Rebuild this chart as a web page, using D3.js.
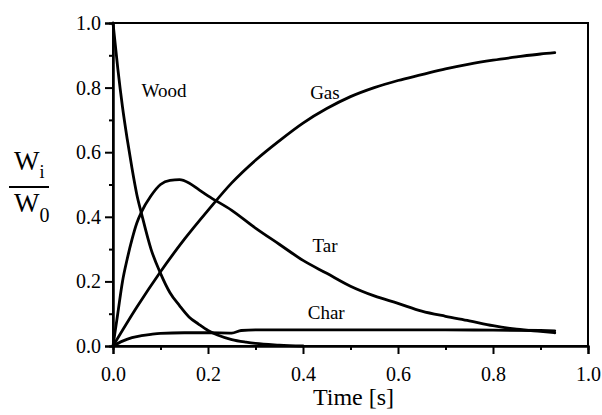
<!DOCTYPE html>
<html>
<head>
<meta charset="utf-8">
<script src="https://d3js.org/d3.v7.min.js"></script>
<style>
  body { margin: 0; background: #fff; }
  text { font-family: "Liberation Serif", "DejaVu Serif", serif; fill: #000; }
  .axis path, .axis line { stroke: #000; stroke-width: 2; }
  .curve { fill: none; stroke: #000; stroke-width: 2.8; stroke-linejoin: round; stroke-linecap: round; }
</style>
</head>
<body>
<script>
// --- data ---
const woodT = [0, 0.01, 0.02, 0.03, 0.04, 0.05, 0.06, 0.08, 0.10, 0.12, 0.14, 0.16, 0.18, 0.20, 0.22, 0.25, 0.28, 0.30, 0.35, 0.40];
const woodV = [1.0, 0.86, 0.74, 0.64, 0.55, 0.47, 0.41, 0.30, 0.225, 0.165, 0.125, 0.09, 0.068, 0.048, 0.034, 0.02, 0.012, 0.008, 0.003, 0.0];

const tarT = [0, 0.01, 0.02, 0.03, 0.04, 0.05, 0.06, 0.08, 0.10, 0.12, 0.14, 0.16, 0.18, 0.20, 0.25, 0.30, 0.35, 0.40, 0.45, 0.50, 0.55, 0.60, 0.65, 0.70, 0.75, 0.80, 0.85, 0.90, 0.93];
const tarV = [0, 0.10, 0.20, 0.27, 0.33, 0.38, 0.415, 0.465, 0.50, 0.513, 0.515, 0.505, 0.485, 0.465, 0.42, 0.365, 0.315, 0.265, 0.225, 0.185, 0.155, 0.132, 0.108, 0.092, 0.078, 0.063, 0.052, 0.045, 0.041];

const gasT = [0, 0.05, 0.10, 0.15, 0.20, 0.25, 0.30, 0.35, 0.40, 0.45, 0.50, 0.55, 0.60, 0.65, 0.70, 0.75, 0.80, 0.85, 0.90, 0.93];
const gasV = [0, 0.12, 0.23, 0.33, 0.42, 0.505, 0.575, 0.635, 0.69, 0.735, 0.772, 0.80, 0.822, 0.84, 0.858, 0.873, 0.885, 0.895, 0.904, 0.908];

const charT = [0, 0.02, 0.04, 0.06, 0.08, 0.10, 0.15, 0.20, 0.25, 0.27, 0.30, 0.40, 0.50, 0.60, 0.70, 0.80, 0.90, 0.93];
const charV = [0, 0.015, 0.026, 0.032, 0.036, 0.039, 0.041, 0.041, 0.040, 0.048, 0.050, 0.050, 0.050, 0.050, 0.050, 0.049, 0.048, 0.047];

const majorTicks = [0, 0.2, 0.4, 0.6, 0.8, 1.0];
const minorTicks = [0.1, 0.3, 0.5, 0.7, 0.9];

const labels = [
  { text: "Wood", t: 0.06, v: 0.77 },
  { text: "Gas",  t: 0.415, v: 0.765 },
  { text: "Tar",  t: 0.42, v: 0.29 },
  { text: "Char", t: 0.41, v: 0.085 }
];

// --- svg setup ---
const W = 602, H = 415;
const margin = { top: 23, right: 14, bottom: 69, left: 113 };
const width = W - margin.left - margin.right, height = H - margin.top - margin.bottom;

const svg = d3.select("body").append("svg")
  .attr("width", W)
  .attr("height", H)
  .append("g")
  .attr("transform", `translate(${margin.left}, ${margin.top})`);

const x = d3.scaleLinear().domain([0, 1]).range([0, width]);
const y = d3.scaleLinear().domain([0, 1]).range([height, 0]);

// frame
svg.append("rect")
  .attr("width", width)
  .attr("height", height)
  .attr("fill", "none")
  .attr("stroke", "#000")
  .attr("stroke-width", 2);

// axes: major ticks with labels, minor ticks without
function styleAxis(g) {
  g.attr("font-family", "Liberation Serif, serif").attr("font-size", 20);
}
svg.append("g").attr("class", "axis")
  .attr("transform", `translate(0, ${height})`)
  .call(d3.axisBottom(x).tickValues(majorTicks).tickSize(8).tickPadding(13).tickFormat(d3.format(".1f")))
  .call(styleAxis);
svg.append("g").attr("class", "axis")
  .attr("transform", `translate(0, ${height})`)
  .call(d3.axisBottom(x).tickValues(minorTicks).tickSize(4).tickFormat(""));

svg.append("g").attr("class", "axis")
  .call(d3.axisLeft(y).tickValues(majorTicks).tickSize(8).tickPadding(4).tickFormat(d3.format(".1f")))
  .call(styleAxis);
svg.append("g").attr("class", "axis")
  .call(d3.axisLeft(y).tickValues(minorTicks).tickSize(4).tickFormat(""));

// curves
const line = d3.line().x(d => x(d[0])).y(d => y(d[1])).curve(d3.curveMonotoneX);
const series = [[woodT, woodV], [tarT, tarV], [gasT, gasV], [charT, charV]];
series.forEach(([ts, vs]) => {
  svg.append("path")
    .attr("class", "curve")
    .attr("d", line(ts.map((t, i) => [t, vs[i]])));
});

// curve labels
svg.selectAll("text.curve-label")
  .data(labels)
  .enter().append("text")
  .attr("class", "curve-label")
  .attr("x", d => x(d.t))
  .attr("y", d => y(d.v))
  .style("font-size", "19px")
  .text(d => d.text);

// x label
svg.append("text")
  .attr("x", width / 2 + 3)
  .attr("y", height + 59)
  .attr("text-anchor", "middle")
  .style("font-size", "24px")
  .text("Time [s]");

// y label as fraction W_i / W_0
const yl = d3.select("svg").append("g");
const numer = yl.append("text").attr("x", 14).attr("y", 170).style("font-size", "27px");
numer.append("tspan").text("W");
numer.append("tspan").attr("dy", 8).style("font-size", "18px").text("i");
yl.append("line")
  .attr("x1", 9).attr("x2", 49).attr("y1", 187).attr("y2", 187)
  .attr("stroke", "#000").attr("stroke-width", 2);
const denom = yl.append("text").attr("x", 14).attr("y", 212).style("font-size", "27px");
denom.append("tspan").text("W");
denom.append("tspan").attr("dy", 10).style("font-size", "20px").text("0");
</script>
</body>
</html>
